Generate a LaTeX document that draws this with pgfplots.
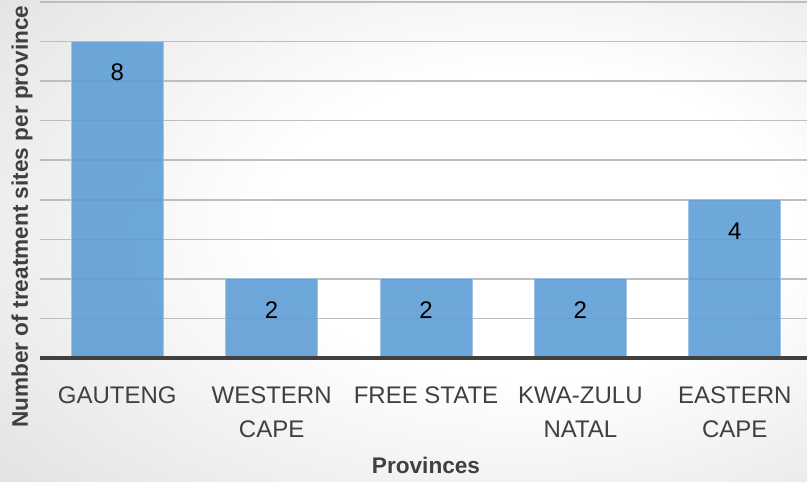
\documentclass[border=0pt]{standalone}
\usepackage{pgfplots}
\pgfplotsset{compat=1.18}
\usepackage{fontspec}
\setmainfont{Liberation Sans}

\definecolor{barblue}{RGB}{91,155,213}
\definecolor{baredge}{RGB}{160,196,230}
\definecolor{txtgray}{RGB}{64,64,64}
\definecolor{gridgray}{RGB}{190,190,190}

\pgfdeclareradialshading{bgshade}{\pgfpoint{10bp}{2bp}}{%
  color(0bp)=(white); color(16bp)=(white); color(50bp)=(black!16); color(75bp)=(black!23)}

\begin{document}
\begin{tikzpicture}
\path[use as bounding box] (0pt,0pt) rectangle (403.5pt,240.5pt);
\path[shading=bgshade] (0pt,0pt) rectangle (403.5pt,240.5pt);

\begin{axis}[
    at={(58.6pt,61.5pt)}, anchor=origin,
    scale only axis, width=386pt, height=178pt,
    xmin=-0.5, xmax=4.5, ymin=0, ymax=9,
    ybar, bar width=46pt,
    axis line style={draw=none},
    xtick={0,1,2,3,4},
    xticklabels={GAUTENG,{WESTERN\\CAPE},FREE STATE,{KWA-ZULU\\NATAL},{EASTERN\\CAPE}},
    xticklabel style={align=center, font=\fontsize{12}{16.8}\selectfont, text=txtgray, anchor=north, yshift=-11pt},
    ytick={0,1,...,9}, yticklabels={},
    major tick length=0pt,
    ymajorgrids, grid style={gridgray, line width=0.75pt},
    xlabel={Provinces},
    ylabel={Number of treatment sites per province},
    xlabel style={font=\fontsize{11.3}{13}\selectfont\bfseries, text=txtgray, at={(axis description cs:0.5,-0.303)}, anchor=center},
    ylabel style={font=\fontsize{11.3}{13}\selectfont\bfseries, text=txtgray, at={(axis description cs:-0.0233,0.397)}, anchor=center, rotate=0},
    nodes near coords={\pgfmathprintnumber[assume math mode=true]{\pgfplotspointmeta}},
    every node near coord/.append style={font=\fontsize{12}{14}\selectfont, text=black, anchor=center, yshift=-15.5pt},
    after end axis/.code={\draw[txtgray, line width=1.6pt] (rel axis cs:0,0) -- (rel axis cs:1,0);},
]
\addplot[fill=barblue, fill opacity=0.88, draw=baredge, line width=0.5pt, text opacity=1]
    coordinates {(0,8) (1,2) (2,2) (3,2) (4,4)};
\end{axis}
\end{tikzpicture}
\end{document}
